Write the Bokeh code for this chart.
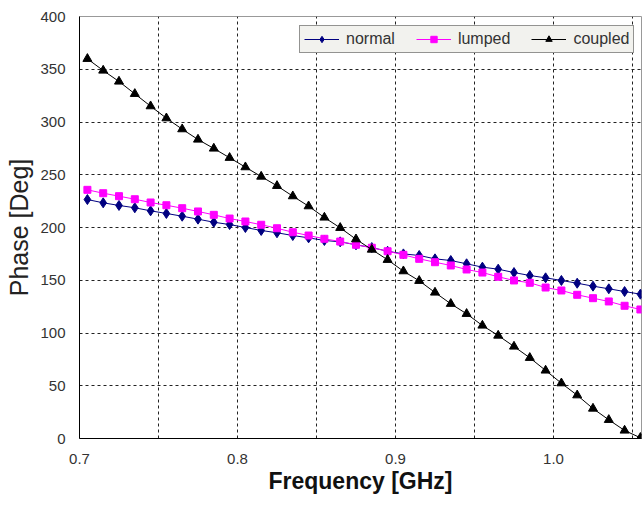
from bokeh.plotting import figure
from bokeh.models import FixedTicker, Legend
from bokeh.embed import file_html
from bokeh.resources import INLINE

freq = [round(0.705 + 0.01 * i, 3) for i in range(36)]

normal = [226.5, 223.4, 220.9, 218.7, 215.8, 213.3, 210.7, 207.9, 205.0, 202.8,
          200.0, 197.2, 195.0, 192.4, 190.2, 187.7, 186.4, 183.6, 181.0, 177.5,
          175.0, 173.5, 170.3, 168.7, 165.6, 162.4, 160.5, 157.3, 154.5, 152.3,
          149.8, 147.2, 144.4, 141.9, 139.3, 136.8]
lumped = [235.7, 232.5, 229.7, 226.8, 223.7, 221.1, 218.3, 215.2, 212.0, 208.5,
          205.7, 202.6, 199.3, 195.5, 192.4, 189.3, 186.7, 183.6, 180.8, 177.5,
          174.1, 170.3, 167.1, 164.0, 160.2, 157.3, 153.3, 149.8, 147.6, 143.1,
          140.3, 136.2, 133.0, 129.9, 125.8, 122.3]
coupled = [359.9, 348.8, 338.4, 326.7, 315.0, 303.6, 293.2, 283.4, 274.9, 266.1,
           257.2, 248.3, 239.5, 229.7, 220.2, 209.5, 199.7, 188.9, 179.1, 169.4,
           158.6, 149.5, 138.4, 127.7, 118.2, 107.1, 97.6, 87.2, 76.5, 64.5,
           52.4, 41.0, 28.4, 17.7, 7.6, 0.7]

x_ticks = [0.7, 0.8, 0.9, 1.0]
x_grid = [0.75, 0.8, 0.85, 0.9, 0.95, 1.0, 1.05]
y_ticks = [0, 50, 100, 150, 200, 250, 300, 350, 400]

p = figure(width=643, height=505, x_range=(0.7, 1.0557), y_range=(0, 400),
           output_backend="svg", toolbar_location=None,
           min_border_left=79, min_border_right=2, min_border_top=16,
           min_border_bottom=67)
p.background_fill_color = "white"
p.border_fill_color = "white"
p.outline_line_color = "#999999"

FONT = "Liberation Sans"

p.xaxis.ticker = FixedTicker(ticks=x_ticks)
p.xaxis.major_label_overrides = {0.7: "0.7", 0.8: "0.8", 0.9: "0.9", 1.0: "1.0"}
p.yaxis.ticker = FixedTicker(ticks=y_ticks)
for ax in (p.xaxis, p.yaxis):
    ax.major_tick_line_color = None
    ax.minor_tick_line_color = None
    ax.major_tick_in = 0
    ax.major_tick_out = 0
    ax.axis_line_color = "black"
    ax.axis_line_width = 1
    ax.major_label_text_font = FONT
    ax.major_label_text_font_size = "15px"
    ax.major_label_text_color = "#333333"
p.xaxis.major_label_standoff = 15
p.yaxis.major_label_standoff = 14

p.xgrid.ticker = FixedTicker(ticks=x_grid)
p.ygrid.ticker = FixedTicker(ticks=y_ticks[1:-1])
for g in (p.xgrid, p.ygrid):
    g.grid_line_color = "#222222"
    g.grid_line_dash = "3 3"
    g.grid_line_width = 1

p.xaxis.axis_label = "Frequency [GHz]"
p.xaxis.axis_label_text_font = FONT
p.xaxis.axis_label_text_font_style = "bold"
p.xaxis.axis_label_text_font_size = "23px"
p.xaxis.axis_label_text_color = "#111111"
p.xaxis.axis_label_standoff = 1

p.yaxis.axis_label = "Phase [Deg]"
p.yaxis.axis_label_text_font = FONT
p.yaxis.axis_label_text_font_style = "normal"
p.yaxis.axis_label_text_font_size = "25px"
p.yaxis.axis_label_text_color = "#222222"
p.yaxis.axis_label_standoff = 4

series = [
    ("normal", normal, "#000080", "diamond", 10),
    ("lumped", lumped, "#ff00ff", "square", 7),
    ("coupled", coupled, "black", "triangle", 9),
]
items = []
for name, vals, col, mk, sz in series:
    l = p.line(freq, vals, line_color=col, line_width=1)
    s = p.scatter(freq, vals, marker=mk, size=sz, fill_color=col, line_color=col)
    items.append((name, [l, s]))

legend = Legend(items=items, orientation="horizontal", location=(220, 385))
legend.background_fill_color = "#f2f2ee"
legend.background_fill_alpha = 1
legend.border_line_color = "#333333"
legend.border_line_width = 1
legend.label_text_font = FONT
legend.label_text_font_size = "16px"
legend.label_text_color = "#333333"
legend.glyph_width = 35
legend.glyph_height = 16
legend.label_height = 16
legend.label_standoff = 7
legend.spacing = 21
legend.padding = 4
legend.margin = 0
p.add_layout(legend)

open("out.html", "w").write(file_html(p, INLINE))
